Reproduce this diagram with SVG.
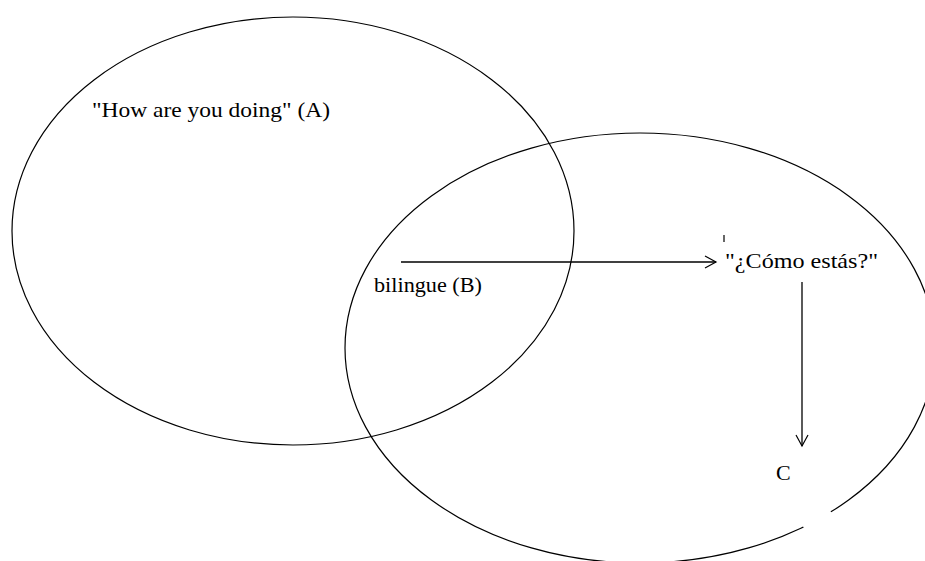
<svg xmlns="http://www.w3.org/2000/svg" width="925" height="561" viewBox="0 0 925 561">
<style>
.sh{fill:none;stroke:#000;stroke-width:1.2}
.ln{fill:none;stroke:#000;stroke-width:1.3}
</style>
<defs>
<marker id="ah" markerWidth="14" markerHeight="14" refX="12" refY="7" orient="auto" markerUnits="userSpaceOnUse">
<path d="M1,1 L12,7 L1,13" fill="none" stroke="#000" stroke-width="1.2"/>
</marker>
</defs>
<rect width="925" height="561" fill="#fff"/>
<g font-family="Liberation Serif, Times New Roman, DejaVu Serif, serif" font-size="22" fill="#000">
<g id="setA">
<ellipse class="sh" cx="293" cy="231" rx="281" ry="214"/>
<text x="92" y="117" textLength="238" lengthAdjust="spacingAndGlyphs">"How are you doing" (A)</text>
</g>
<g id="setB">
<ellipse class="sh" cx="640" cy="348" rx="295" ry="215"/>
<path d="M804,528 L831,512" stroke="#fff" stroke-width="6"/>
<text x="374" y="292" textLength="108" lengthAdjust="spacingAndGlyphs">bilingue (B)</text>
</g>
<g id="spanish">
<line class="sh" x1="724" y1="235" x2="724" y2="242"/>
<text x="725" y="268" textLength="153" lengthAdjust="spacingAndGlyphs">"¿Cómo estás?"</text>
</g>
<g id="nodeC">
<text x="776" y="480">C</text>
</g>
</g>
<g id="connectors">
<line class="ln" x1="401" y1="262" x2="716" y2="262" marker-end="url(#ah)"/>
<line class="ln" x1="802" y1="282" x2="802" y2="446" marker-end="url(#ah)"/>
</g>
</svg>
